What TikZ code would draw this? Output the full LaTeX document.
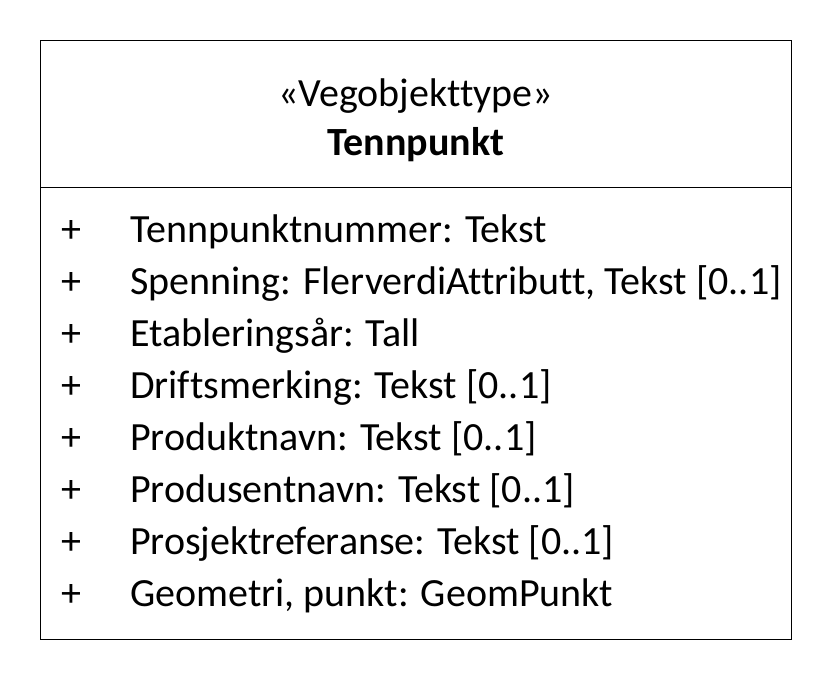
\documentclass[tikz,border=0pt]{standalone}
\usepackage{fontspec}
\setmainfont{Carlito}[Ligatures=NoCommon]
\begin{document}
\begin{tikzpicture}[x=1pt,y=-1pt,
  attr/.style={anchor=base west,inner sep=0pt,font=\fontsize{40}{46}\selectfont},
  ttl/.style={anchor=base,inner sep=0pt,font=\fontsize{40}{46}\selectfont}]
\useasboundingbox[fill=white] (0,0) rectangle (832,680);
\node[draw=black,line width=1pt,minimum width=751pt,minimum height=599pt,inner sep=0pt,anchor=north west] (box) at (40,40) {};
\coordinate (dl) at (40,187);
\coordinate (dr) at (791,187);
\draw[line width=1pt] (dl) -- (dr);
\node[ttl] (st) at (415.5,106) {«Vegobjekttype»};
\node[ttl,font=\fontsize{40}{46}\selectfont\bfseries] (nm) at (415.5,155) {Tennpunkt};
\foreach \i/\t in {0/{Tennpunktnummer: Tekst},1/{Spenning: FlerverdiAttributt, Tekst [0..1]},2/{Etableringsår: Tall},3/{Driftsmerking: Tekst [0..1]},4/{Produktnavn: Tekst [0..1]},5/{Produsentnavn: Tekst [0..1]},6/{Prosjektreferanse: Tekst [0..1]},7/{Geometri, punkt: GeomPunkt}}{
  \node[attr] (p\i) at (61,{242+52*\i}) {+};
  \node[attr] (a\i) at (130,{242+52*\i}) {\t};
}
\end{tikzpicture}
\end{document}
